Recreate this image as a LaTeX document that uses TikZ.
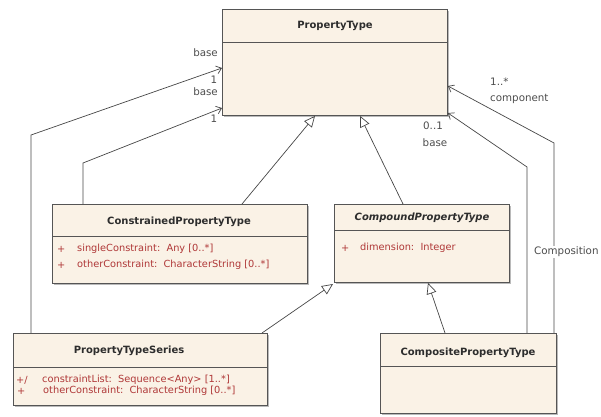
\documentclass[tikz,border=0pt]{standalone}
\usepackage{fontspec}
\setmainfont{DejaVu Sans}
\usetikzlibrary{arrows.meta,shadows}
\definecolor{clsfill}{RGB}{250,242,230}
\definecolor{clsline}{RGB}{85,85,85}
\definecolor{attrred}{RGB}{175,55,55}
\definecolor{txtdark}{RGB}{45,45,45}
\definecolor{conn}{RGB}{70,70,70}
\begin{document}
\begin{tikzpicture}[x=1pt,y=-1pt,
  cls/.style={draw=clsline, line width=0.9pt, fill=clsfill, anchor=north west, inner sep=0pt,
    drop shadow={shadow xshift=1.5pt, shadow yshift=-1.5pt, fill=black!45, opacity=0.6}},
  sepline/.style={draw=clsline, line width=0.8pt},
  clsname/.style={font=\fontsize{10}{12}\selectfont\bfseries, text=txtdark, inner sep=0pt},
  attr/.style={font=\fontsize{9.8}{11}\selectfont, text=attrred, inner sep=0pt, anchor=west},
  lbl/.style={font=\fontsize{10.3}{12}\selectfont, text=txtdark!85, inner sep=0pt},
  assoc/.style={draw=conn, line width=0.7pt, -{Straight Barb[length=5pt,width=8pt]}},
  gen/.style={draw=conn, line width=0.7pt, -{Triangle[open,length=11pt,width=10pt,fill=white]}}]
\useasboundingbox (0,0) rectangle (601,416);

% class boxes
\node[cls, minimum width=225pt, minimum height=106pt] (pt) at (222,9) {};
\node[cls, minimum width=255pt, minimum height=79pt] (cpt) at (52,204) {};
\node[cls, minimum width=175pt, minimum height=78pt] (cmp) at (334,204) {};
\node[cls, minimum width=254pt, minimum height=72pt] (pts) at (13,333) {};
\node[cls, minimum width=176pt, minimum height=80pt] (comp) at (380,333) {};

% compartment separators
\draw[sepline] (pt.west |- 0,42) -- (pt.east |- 0,42);
\draw[sepline] (cpt.west |- 0,236) -- (cpt.east |- 0,236);
\draw[sepline] (cmp.west |- 0,230) -- (cmp.east |- 0,230);
\draw[sepline] (pts.west |- 0,367) -- (pts.east |- 0,367);
\draw[sepline] (comp.west |- 0,366) -- (comp.east |- 0,366);

% class names
\node[clsname] (ptn) at (335,26) {PropertyType};
\node[clsname] (cptn) at (179,222) {ConstrainedPropertyType};
\node[clsname, font=\fontsize{10}{12}\selectfont\bfseries\itshape] (cmpn) at (422,218) {CompoundPropertyType};
\node[clsname] (ptsn) at (129,351) {PropertyTypeSeries};
\node[clsname] (compn) at (468,353) {CompositePropertyType};

% attributes
\node[attr] (a1v) at (57,249) {+};
\node[attr] (a1) at (77,249) {singleConstraint:\ \ Any [0..*]};
\node[attr] (a2v) at (57,265) {+};
\node[attr] (a2) at (77,265) {otherConstraint:\ \ CharacterString [0..*]};
\node[attr] (a3v) at (341,248) {+};
\node[attr] (a3) at (360,248) {dimension:\ \ Integer};
\node[attr] (a4v) at (16,380) {+/};
\node[attr] (a4) at (42,380) {constraintList:\ \ Sequence<Any> [1..*]};
\node[attr] (a5v) at (17,391) {+};
\node[attr] (a5) at (43,391) {otherConstraint:\ \ CharacterString [0..*]};

% generalizations
\draw[gen] (cpt.north -| 242,0) -- (pt.south -| 315,0);
\draw[gen] (cmp.north -| 403,0) -- (pt.south -| 360,0);
\draw[gen] (pts.north -| 262,0) -- (333,284);
\draw[gen] (comp.north -| 445,0) -- (cmp.south -| 428,0);

% associations
\coordinate (b1) at (31,135);
\coordinate (b2) at (83,163);
\coordinate (b3) at (554,143);
\coordinate (b4) at (527,167);
\draw[assoc] (pts.north -| b1) -- (b1) -- (pt.west |- 0,68);
\draw[assoc] (cpt.north -| b2) -- (b2) -- (pt.west |- 0,108);
\draw[assoc] (comp.north -| b3) -- (b3) -- (pt.east |- 0,86);
\draw[assoc] (comp.north -| b4) -- (b4) -- (pt.east |- 0,113);

% association end labels
\node[lbl, anchor=east] (l1) at (218,53) {base};
\node[lbl] (l2) at (214,80) {1};
\node[lbl, anchor=east] (l3) at (218,92) {base};
\node[lbl] (l4) at (214,119) {1};
\node[lbl, anchor=west] (l5) at (490,82) {1..*};
\node[lbl, anchor=west] (l6) at (490,99) {component};
\node[lbl] (l7) at (433,126) {0..1};
\node[lbl] (l8) at (435,143) {base};
\node[lbl, anchor=west, fill=white, inner sep=1pt] (l9) at (533,252) {Composition};
\end{tikzpicture}
\end{document}
